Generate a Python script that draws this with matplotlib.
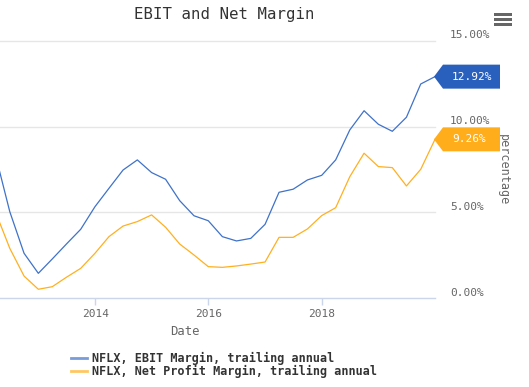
import matplotlib
matplotlib.use("Agg")
import matplotlib.pyplot as plt
import matplotlib.dates as mdates
from matplotlib.patches import Polygon, Rectangle
from matplotlib.lines import Line2D
from matplotlib.transforms import IdentityTransform, offset_copy
import pandas as pd

# ---------------- data ----------------
dates = pd.date_range("2012-03-31", "2019-12-31", freq="QE")
ebit_margin = [8.30, 5.04, 2.61, 1.44, 2.28, 3.15, 4.01, 5.33,
               6.40, 7.47, 8.06, 7.32, 6.93, 5.68, 4.80, 4.51,
               3.58, 3.33, 3.48, 4.30, 6.17, 6.35, 6.89, 7.16,
               8.06, 9.81, 10.93, 10.14, 9.73, 10.55, 12.49, 12.92]
net_margin = [5.00, 2.90, 1.28, 0.51, 0.66, 1.21, 1.73, 2.61,
              3.58, 4.20, 4.46, 4.85, 4.13, 3.15, 2.51, 1.83,
              1.79, 1.87, 1.98, 2.10, 3.54, 3.54, 4.03, 4.81,
              5.27, 7.08, 8.45, 7.67, 7.61, 6.54, 7.51, 9.26]
series_names = ["NFLX, EBIT Margin, trailing annual",
                "NFLX, Net Profit Margin, trailing annual"]
y_ticks = [0, 5, 10, 15]
x_tick_years = [2014, 2016, 2018]
title = "EBIT and Net Margin"

# ---------------- style ----------------
W, H = 529, 387
FONT = "DejaVu Sans Mono"
plt.rcParams["font.family"] = FONT
blue_line = "#3f72c9"
blue_flag = "#2a60bd"
orange_line = "#ffb020"
orange_flag = "#ffad1a"
grid_c = "#e6e6e6"
axis_c = "#ccd6eb"
label_c = "#666666"

def fx(px):
    return px / W

def fy(py):
    return 1 - py / H

fig = plt.figure(figsize=(W / 100, H / 100), dpi=100)
fig.patch.set_facecolor("white")
ax = fig.add_axes([fx(0), fy(298), fx(435), (298 - 41) / H])
ax.set_facecolor("white")
for s in ax.spines.values():
    s.set_visible(False)

ax.plot(dates, ebit_margin, color=blue_line, lw=0.9, zorder=3)
ax.plot(dates, net_margin, color=orange_line, lw=0.9, zorder=3)

ax.set_xlim(pd.Timestamp("2012-04-28"), pd.Timestamp("2019-12-31"))
ax.set_ylim(0, 15)

# grid lines
for v in y_ticks:
    ax.axhline(v, color=axis_c if v == 0 else grid_c, lw=1.0,
               clip_on=False, zorder=1)
ax.set_yticks([])

# y labels on the right
ytrans = offset_copy(ax.get_yaxis_transform(), fig=fig, x=0, y=5.5, units="dots")
for v in y_ticks:
    ax.text(450 / 435, v, f"{v:.2f}%", transform=ytrans, ha="left", va="center",
            fontsize=8, color=label_c, clip_on=False)

# x ticks
ax.set_xticks([pd.Timestamp(f"{y}-01-01") for y in x_tick_years])
ax.xaxis.set_major_formatter(mdates.DateFormatter("%Y"))
ax.tick_params(axis="x", direction="out", length=5, width=1, color=axis_c,
               labelsize=8, labelcolor=label_c, pad=3)

# title, axis labels
fig.text(fx(224), fy(15), title, ha="center", va="center", fontsize=11.3, color="#333333")
fig.text(fx(185), fy(331.5), "Date", ha="center", va="center", fontsize=8.8, color=label_c)
fig.text(fx(503), fy(170), "percentage", ha="center", va="center", rotation=270,
         fontsize=8.5, color=label_c)

# hamburger menu
for yc in (14.5, 19.5, 24.5):
    fig.add_artist(Rectangle((fx(494), fy(yc + 1.2)), fx(511.5) - fx(494), 2.4 / H,
                             transform=fig.transFigure, facecolor=label_c,
                             edgecolor="none"))

# legend
legend_rows = [(series_names[0], blue_line, 358.3), (series_names[1], orange_line, 371)]
for name, c, yy in legend_rows:
    fig.add_artist(Line2D([fx(71), fx(87)], [fy(yy), fy(yy)], transform=fig.transFigure,
                          color=c, lw=2, alpha=0.7))
    fig.text(fx(92), fy(yy), name, ha="left", va="center", fontsize=8.5,
             fontweight="bold", color="#333333")

# end-value flags
fig.canvas.draw()
for vals, fc in ((ebit_margin, blue_flag), (net_margin, orange_flag)):
    tx, ty = ax.transData.transform((mdates.date2num(dates[-1]), vals[-1]))
    tx -= 1
    pts = [(tx, ty), (tx + 9, ty + 12), (tx + 66, ty + 12), (tx + 66, ty - 12), (tx + 9, ty - 12)]
    fig.add_artist(Polygon(pts, closed=True, transform=IdentityTransform(),
                           facecolor=fc, edgecolor="none", zorder=5))
    fig.text(tx + 18, ty, f"{vals[-1]:.2f}%", transform=IdentityTransform(),
             ha="left", va="center", fontsize=8, color="white", zorder=6)

fig.savefig("out.png", dpi=100, facecolor="white")
